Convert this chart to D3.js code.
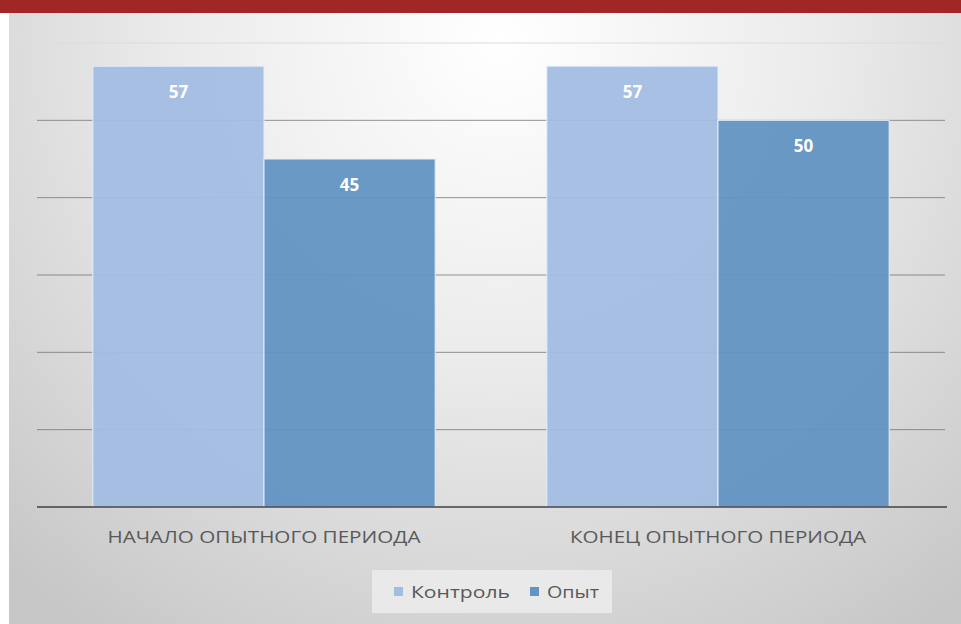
<!DOCTYPE html>
<html>
<head>
<meta charset="utf-8">
<script src="https://cdn.jsdelivr.net/npm/d3@7"></script>
<style>
  body { margin: 0; background: #fff; }
  svg { display: block; }
</style>
</head>
<body>
<div id="chart"></div>
<script>
var periods = ["НАЧАЛО ОПЫТНОГО ПЕРИОДА", "КОНЕЦ ОПЫТНОГО ПЕРИОДА"];
var seriesNames = ["Контроль", "Опыт"];
var controlValues = [57, 57];
var experimentValues = [45, 50];
var yTicks = [0, 10, 20, 30, 40, 50, 60];

var color = d3.scaleOrdinal()
  .domain(seriesNames)
  .range(["#a2bde2", "#6394c3"]);

var width = 961;
var height = 624;
var margin = { top: 43, right: 16, bottom: 117, left: 37 };

var data = periods.map(function (p, i) {
  return { period: p, "Контроль": controlValues[i], "Опыт": experimentValues[i] };
});

var svg = d3.select("#chart")
  .append("svg")
  .attr("width", width)
  .attr("height", height);

// background gradient
var defs = svg.append("defs");
var grad = defs.append("radialGradient")
  .attr("id", "bg")
  .attr("gradientUnits", "userSpaceOnUse")
  .attr("cx", 500).attr("cy", 40)
  .attr("r", 720);
grad.append("stop").attr("offset", "0%").attr("stop-color", "#ffffff");
grad.append("stop").attr("offset", "45%").attr("stop-color", "#ebebeb");
grad.append("stop").attr("offset", "100%").attr("stop-color", "#c7c7c7");

svg.append("rect")
  .attr("x", 9).attr("y", 13)
  .attr("width", width - 9).attr("height", height - 13)
  .attr("fill", "url(#bg)");

// red top strip
svg.append("rect")
  .attr("x", 0).attr("y", 0)
  .attr("width", width).attr("height", 13)
  .attr("fill", "#a02724");

var x0 = d3.scaleBand()
  .domain(periods)
  .range([margin.left, width - margin.right])
  .paddingInner(0.246)
  .paddingOuter(0.123);

var x1 = d3.scaleBand()
  .domain(seriesNames)
  .range([0, x0.bandwidth()]);

var y = d3.scaleLinear()
  .domain([0, 60])
  .range([height - margin.bottom, margin.top]);

// gridlines
svg.append("g")
  .selectAll("line")
  .data(yTicks.slice(1))
  .enter()
  .append("line")
  .attr("x1", margin.left)
  .attr("x2", width - margin.right)
  .attr("y1", function (d) { return y(d); })
  .attr("y2", function (d) { return y(d); })
  .attr("stroke", function (d) { return d === 60 ? "#dcdcdc" : "#6f6f6f"; })
  .attr("stroke-opacity", function (d) { return d === 60 ? 1 : 0.75; })
  .attr("stroke-width", 1);

// bars
var groups = svg.append("g")
  .selectAll("g")
  .data(data)
  .enter()
  .append("g")
  .attr("transform", function (d) { return "translate(" + x0(d.period) + ",0)"; });

groups.selectAll("rect")
  .data(function (d) { return seriesNames.map(function (k) { return { key: k, value: d[k] }; }); })
  .enter()
  .append("rect")
  .attr("x", function (d) { return x1(d.key); })
  .attr("y", function (d) { return y(d.value); })
  .attr("width", x1.bandwidth())
  .attr("height", function (d) { return y(0) - y(d.value); })
  .attr("fill", function (d) { return color(d.key); })
  .attr("fill-opacity", 0.95)
  .attr("stroke", "#e4eef8")
  .attr("stroke-width", 1);

groups.selectAll("text")
  .data(function (d) { return seriesNames.map(function (k) { return { key: k, value: d[k] }; }); })
  .enter()
  .append("text")
  .attr("x", function (d) { return x1(d.key) + x1.bandwidth() / 2; })
  .attr("y", function (d) { return y(d.value) + 32; })
  .attr("text-anchor", "middle")
  .attr("font-family", "Open Sans, sans-serif")
  .attr("font-weight", "bold")
  .attr("font-size", "17px")
  .attr("fill", "#ffffff")
  .text(function (d) { return d.value; });

// baseline
svg.append("line")
  .attr("x1", margin.left)
  .attr("x2", width - margin.right + 2)
  .attr("y1", y(0))
  .attr("y2", y(0))
  .attr("stroke", "#404040")
  .attr("stroke-width", 1.5);

// category labels
svg.append("g")
  .selectAll("text")
  .data(periods)
  .enter()
  .append("text")
  .attr("x", function (d) { return x0(d) + x0.bandwidth() / 2; })
  .attr("y", y(0) + 36)
  .attr("text-anchor", "middle")
  .attr("font-family", "Open Sans, sans-serif")
  .attr("font-size", "16.5px")
  .attr("fill", "#595959")
  .attr("textLength", function (d, i) { return i === 0 ? 313 : 296; })
  .attr("lengthAdjust", "spacingAndGlyphs")
  .text(function (d) { return d; });

// legend
var legend = svg.append("g")
  .attr("class", "legend")
  .attr("transform", "translate(372,570)");

legend.append("rect")
  .attr("width", 240)
  .attr("height", 43)
  .attr("fill", "#ececec")
  .attr("fill-opacity", 0.85);

var legendX = [22, 158];
legend.selectAll("rect.swatch")
  .data(seriesNames)
  .enter()
  .append("rect")
  .attr("class", "swatch")
  .attr("x", function (d, i) { return legendX[i]; })
  .attr("y", 17)
  .attr("width", 9)
  .attr("height", 9)
  .attr("fill", color);

legend.selectAll("text")
  .data(seriesNames)
  .enter()
  .append("text")
  .attr("x", function (d, i) { return legendX[i] + 17; })
  .attr("y", 28)
  .attr("font-family", "Open Sans, sans-serif")
  .attr("font-size", "16.5px")
  .attr("fill", "#595959")
  .attr("textLength", function (d, i) { return i === 0 ? 99 : 52; })
  .attr("lengthAdjust", "spacingAndGlyphs")
  .text(function (d) { return d; });
</script>
</body>
</html>
